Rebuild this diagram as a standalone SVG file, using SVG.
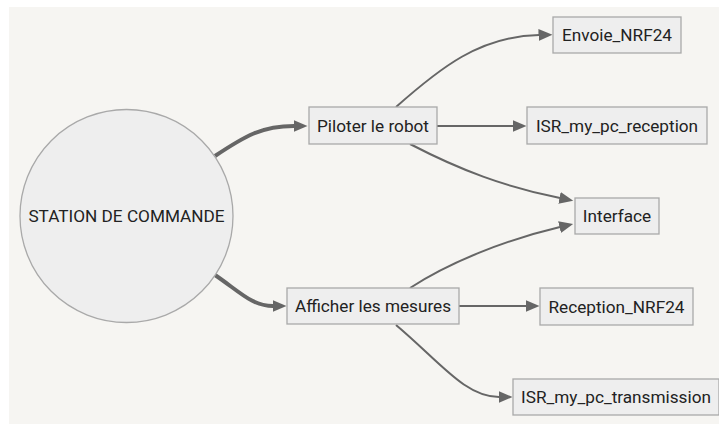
<svg xmlns="http://www.w3.org/2000/svg" width="719" height="424" viewBox="0 0 719 424">
<style>
.node rect, .node circle { fill: #eeeeee; stroke: #a9a9a9; stroke-width: 1.3; }
.node text { font-family: Roboto, "Liberation Sans", sans-serif; font-size: 17.2px; fill: #222222; text-anchor: middle; dominant-baseline: central; }
.edge { fill: none; stroke: #666666; stroke-width: 2; }
.edge.thick { stroke-width: 4; }
</style>
<defs>
<marker id="arr" markerUnits="userSpaceOnUse" markerWidth="16" markerHeight="12" refX="0.5" refY="6" orient="auto">
<path d="M0,0 L14,6 L0,12 Z" fill="#666666"/>
</marker>
</defs>
<rect x="9" y="7" width="710" height="417" fill="#f6f5f2"/>
<g id="connectors">
<path class="edge thick" d="M215,156 C245,136 262,126 294,126" marker-end="url(#arr)"/>
<path class="edge thick" d="M215,275 C240,292 252,306 273,306" marker-end="url(#arr)"/>
<path class="edge" d="M396,107 C440,68 480,36 539,35" marker-end="url(#arr)"/>
<path class="edge" d="M437,126 L513,126" marker-end="url(#arr)"/>
<path class="edge" d="M410,144 C460,170 505,187 560,198" marker-end="url(#arr)"/>
<path class="edge" d="M410,288 C450,262 505,240 560,227" marker-end="url(#arr)"/>
<path class="edge" d="M459,306 L526,306" marker-end="url(#arr)"/>
<path class="edge" d="M396,325 C440,362 465,397 499,397" marker-end="url(#arr)"/>
</g>
<g id="station" class="node"><circle cx="126.5" cy="216" r="106.5"/><text x="126.5" y="216">STATION DE COMMANDE</text></g>
<g id="piloter" class="node"><rect x="309" y="107" width="128" height="37"/><text x="373" y="125.5">Piloter le robot</text></g>
<g id="afficher" class="node"><rect x="287" y="288" width="172" height="36"/><text x="373" y="306">Afficher les mesures</text></g>
<g id="envoie" class="node"><rect x="553" y="17" width="128" height="36"/><text x="617" y="35">Envoie_NRF24</text></g>
<g id="isr_reception" class="node"><rect x="527" y="107" width="180" height="37"/><text x="617" y="125.5">ISR_my_pc_reception</text></g>
<g id="interface" class="node"><rect x="575" y="198" width="84" height="36"/><text x="617" y="216">Interface</text></g>
<g id="reception" class="node"><rect x="540" y="288" width="153" height="37"/><text x="616.5" y="306.5">Reception_NRF24</text></g>
<g id="isr_transmission" class="node"><rect x="513" y="379" width="206" height="36"/><text x="616" y="397">ISR_my_pc_transmission</text></g>
</svg>
